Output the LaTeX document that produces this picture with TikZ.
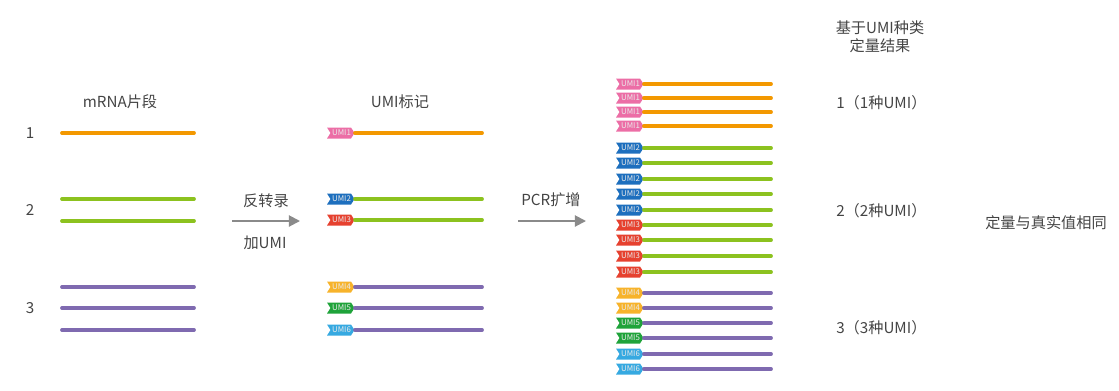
\documentclass[tikz,border=0pt]{standalone}
\usepackage{fontspec}
\setmainfont{Noto Sans CJK SC}
\usetikzlibrary{arrows.meta,positioning}

\definecolor{strandA}{HTML}{F39800}
\definecolor{strandB}{HTML}{8CC21F}
\definecolor{strandC}{HTML}{7F6AB0}
\definecolor{umiA}{HTML}{EC6EA6}
\definecolor{umiB}{HTML}{1D6FBE}
\definecolor{umiC}{HTML}{E6412F}
\definecolor{umiD}{HTML}{F7B32B}
\definecolor{umiE}{HTML}{1FA33A}
\definecolor{umiF}{HTML}{36A9E1}
\definecolor{txt}{HTML}{444444}
\definecolor{pfeil}{HTML}{8A8A8A}

% #1 x, #2 y, #3 tag colour, #4 label, #5 strand colour, #6 strand end
\newcommand{\umistrand}[6]{%
  \fill[#3] (#1,#2-5.5) -- (#1+24,#2-5.5) -- (#1+27.5,#2) -- (#1+24,#2+5.5)
    -- (#1,#2+5.5) -- (#1+3.5,#2) -- cycle;
  \node[umitext] (#4-#2) at (#1+14.5,#2) {#4};
  \draw[strand, #5] (#1+28,#2) -- (#6,#2);
}

\begin{document}
\begin{tikzpicture}[x=0.025cm, y=-0.025cm,
  lbl/.style={text=txt, font=\fontsize{10.8}{13}\selectfont, inner sep=0pt},
  umitext/.style={text=white!92!black, font=\fontsize{5.6}{6}\selectfont, inner sep=0pt},
  strand/.style={line width=2.7pt, line cap=round},
  flow/.style={pfeil, line width=1.4pt, -{Triangle[length=8pt,width=8pt]}}]
  \useasboundingbox (0,0) rectangle (1119,390);

  % mRNA fragments
  \node[lbl] (title-mrna) at (120,102) {mRNA片段};
  \node[lbl] (num1) at (30,133) {1};
  \node[lbl] (num2) at (30,210) {2};
  \node[lbl] (num3) at (30,308) {3};
  \draw[strand, strandA] (62,133) -- (194,133);
  \draw[strand, strandB] (62,199) -- (194,199);
  \draw[strand, strandB] (62,221) -- (194,221);
  \draw[strand, strandC] (62,287) -- (194,287);
  \draw[strand, strandC] (62,308) -- (194,308);
  \draw[strand, strandC] (62,330) -- (194,330);

  % reverse transcription
  \coordinate (rt-start) at (232,221);
  \coordinate (rt-end) at (300,221);
  \draw[flow] (rt-start) -- (rt-end);
  \node[lbl] (rt-top) at (266,201) {反转录};
  \node[lbl] (rt-bot) at (265,243) {加UMI};

  % UMI labelling
  \node[lbl] (title-umi) at (400,102) {UMI标记};
  \umistrand{327}{133}{umiA}{UMI1}{strandA}{482}
  \umistrand{327}{199}{umiB}{UMI2}{strandB}{482}
  \umistrand{327}{220}{umiC}{UMI3}{strandB}{482}
  \umistrand{327}{287}{umiD}{UMI4}{strandC}{482}
  \umistrand{327}{308}{umiE}{UMI5}{strandC}{482}
  \umistrand{327}{330}{umiF}{UMI6}{strandC}{482}

  % PCR
  \coordinate (pcr-start) at (518,221);
  \coordinate (pcr-end) at (586,221);
  \draw[flow] (pcr-start) -- (pcr-end);
  \node[lbl] (pcr-top) at (551,200) {PCR扩增};

  % amplified copies
  \foreach \y in {84,98,112,126}
    {\umistrand{616}{\y}{umiA}{UMI1}{strandA}{771}}
  \foreach \y in {148,163,179,194,210}
    {\umistrand{616}{\y}{umiB}{UMI2}{strandB}{771}}
  \foreach \y in {225,240,256,272}
    {\umistrand{616}{\y}{umiC}{UMI3}{strandB}{771}}
  \foreach \y in {293,308}
    {\umistrand{616}{\y}{umiD}{UMI4}{strandC}{771}}
  \foreach \y in {323,338}
    {\umistrand{616}{\y}{umiE}{UMI5}{strandC}{771}}
  \foreach \y in {354,369}
    {\umistrand{616}{\y}{umiF}{UMI6}{strandC}{771}}

  % quantification
  \node[lbl] (title-q1) at (880,28) {基于UMI种类};
  \node[lbl] (title-q2) at (880,46) {定量结果};
  \node[lbl, anchor=west] (q1) at (836,103) {1（1种UMI）};
  \node[lbl, anchor=west] (q2) at (836,211) {2（2种UMI）};
  \node[lbl, anchor=west] (q3) at (836,328) {3（3种UMI）};
  \node[lbl] (result) at (1046,223) {定量与真实值相同};
\end{tikzpicture}
\end{document}
